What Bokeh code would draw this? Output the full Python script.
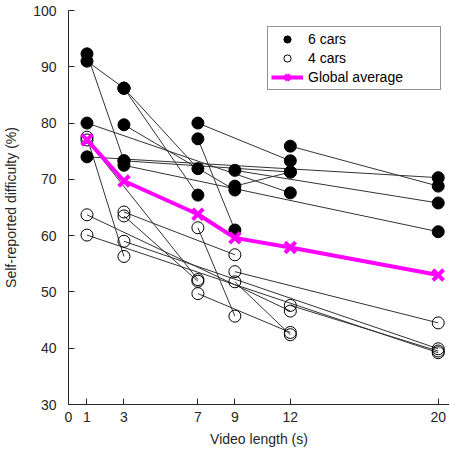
from bokeh.plotting import figure
from bokeh.models import Range1d, FixedTicker, Legend, LegendItem
from bokeh.embed import file_html
from bokeh.resources import INLINE

# ---- data ----
lengths = [1, 3, 7, 9, 12, 20]
global_average = [77.0, 69.7, 63.8, 59.6, 57.9, 53.0]

# 6 cars: each participant segment from (x0, y0) to (x1, y1)
six_x0 = [1, 1, 3, 3, 1, 1, 3, 3, 3, 7, 7, 9, 9, 12]
six_y0 = [91.0, 92.3, 86.2, 86.2, 80.0, 74.0, 79.7, 73.3, 72.5, 80.0, 77.2, 71.6, 68.8, 75.9]
six_x1 = [3, 3, 7, 7, 12, 20, 9, 12, 20, 12, 9, 20, 12, 20]
six_y1 = [86.2, 73.3, 71.9, 67.2, 67.6, 70.3, 68.1, 71.3, 60.7, 73.3, 61.0, 65.8, 71.3, 68.8]

# 4 cars
four_x0 = [1, 1, 1, 1, 3, 3, 3, 7, 7, 9, 9, 12]
four_y0 = [77.5, 77.0, 63.7, 60.1, 64.2, 63.5, 59.0, 61.4, 49.7, 53.6, 51.8, 47.6]
four_x1 = [3, 7, 12, 20, 9, 7, 20, 9, 12, 20, 12, 20]
four_y1 = [56.3, 52.2, 46.6, 39.2, 56.6, 51.9, 39.9, 45.7, 42.8, 44.5, 42.4, 39.5]

x_ticks = [0, 1, 3, 7, 9, 12, 20]
y_ticks = [30, 40, 50, 60, 70, 80, 90, 100]

FONT = "Liberation Sans"
AXC = "#262626"
MAG = "#ff00ff"

p = figure(width=449, height=449, output_backend="svg", toolbar_location=None,
           x_range=Range1d(0, 20.61), y_range=Range1d(30, 100),
           min_border_left=66, min_border_right=0, min_border_top=10, min_border_bottom=45,
           background_fill_color="white", border_fill_color="white")
p.outline_line_color = None
p.xgrid.visible = False
p.ygrid.visible = False

for ax in (p.xaxis[0], p.yaxis[0]):
    ax.axis_line_color = AXC
    ax.major_tick_line_color = AXC
    ax.major_tick_in = 6
    ax.major_tick_out = 0
    ax.minor_tick_line_color = None
    ax.major_label_text_font = FONT
    ax.major_label_text_font_size = "14px"
    ax.major_label_text_color = AXC
    ax.axis_label_text_font = FONT
    ax.axis_label_text_font_size = "14px"
    ax.axis_label_text_font_style = "normal"
    ax.axis_label_text_color = AXC

p.xaxis.ticker = FixedTicker(ticks=x_ticks)
p.yaxis.ticker = FixedTicker(ticks=y_ticks)
p.xaxis.axis_label = "Video length (s)"
p.yaxis.axis_label = "Self-reported difficulty (%)"
p.xaxis.major_label_standoff = 7
p.xaxis.axis_label_standoff = 6
p.yaxis.major_label_standoff = 12
p.yaxis.axis_label_standoff = 11

# participant lines
p.segment(six_x0, six_y0, six_x1, six_y1, line_color="#333333", line_width=1)
p.segment(four_x0, four_y0, four_x1, four_y1, line_color="#333333", line_width=1)

# points
six_px = six_x0 + six_x1
six_py = six_y0 + six_y1
four_px = four_x0 + four_x1
four_py = four_y0 + four_y1
r_six = p.scatter(six_px, six_py, marker="circle", size=12,
                  fill_color="black", line_color="black", line_width=1)
r_four = p.scatter(four_px, four_py, marker="circle", size=12,
                   fill_color=None, line_color="black", line_width=1)

# global average
r_avg_line = p.line(lengths, global_average, line_color=MAG, line_width=4)
r_avg_pts = p.scatter(lengths, global_average, marker="x", size=15,
                      line_color=MAG, line_width=4)

legend = Legend(items=[
    LegendItem(label="6 cars", renderers=[r_six]),
    LegendItem(label="4 cars", renderers=[r_four]),
    LegendItem(label="Global average", renderers=[r_avg_line, r_avg_pts]),
], location=(199, 314))
legend.label_text_font = FONT
legend.label_text_font_size = "14px"
legend.label_text_color = "black"
legend.border_line_color = AXC
legend.border_line_width = 1
legend.background_fill_color = "white"
legend.background_fill_alpha = 1
legend.padding = 3
legend.spacing = 1
legend.glyph_height = 18
legend.label_height = 18
legend.glyph_width = 32
legend.label_standoff = 5
legend.label_width = 129
legend.margin = 0
p.add_layout(legend, "center")

open("out.html", "w").write(file_html(p, INLINE))
